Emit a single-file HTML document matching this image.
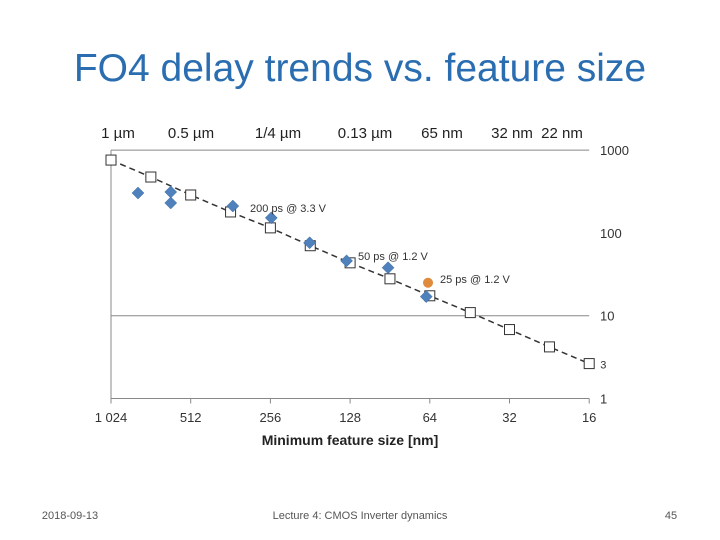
<!DOCTYPE html>
<html><head><meta charset="utf-8"><style>
body{margin:0;background:#fff;width:720px;height:540px;overflow:hidden;font-family:"Liberation Sans",sans-serif}
svg{display:block}
</style></head><body>
<svg id="chart" width="720" height="540" viewBox="0 0 720 540" font-family="Liberation Sans, sans-serif">
<text x="360" y="81" text-anchor="middle" font-size="39" fill="#2a6db0">FO4 delay trends vs. feature size</text>
<g font-size="15" fill="#222" text-anchor="middle">
<text x="118" y="138">1 µm</text><text x="191" y="138">0.5 µm</text><text x="278" y="138">1/4 µm</text><text x="365" y="138">0.13 µm</text><text x="442" y="138">65 nm</text><text x="537" y="138">32 nm&#160; 22 nm</text>
</g>
<g id="axes"></g>
<g id="marks"></g>
<text x="350" y="445" text-anchor="middle" font-size="14" font-weight="bold" fill="#222">Minimum feature size [nm]</text>
<g font-size="11" fill="#333">
<text x="250" y="212">200 ps @ 3.3 V</text><text x="358" y="260">50 ps @ 1.2 V</text><text x="440" y="283">25 ps @ 1.2 V</text>
</g>
<text x="70" y="519" text-anchor="middle" font-size="11" fill="#555">2018-09-13</text>
<text x="360" y="519" text-anchor="middle" font-size="11" fill="#555">Lecture 4: CMOS Inverter dynamics</text>
<text x="671" y="519" text-anchor="middle" font-size="11" fill="#555">45</text>
</svg>
<script>
const trendX=[1024,724,512,362,256,181,128,90.5,64,45,32,22.6,16];
const trendY=[758,473,287,179,115,70,43.5,27.9,17.4,10.9,6.8,4.2,2.64];
const measX=[810,609,609,355,254,182,132,92,66];
const measY=[303,312,230,211,152,76,46,38,17];
const extraX=[65];
const extraY=[25];
const xTicks=[1024,512,256,128,64,32,16];
const xTickLabels=["1 024","512","256","128","64","32","16"];
const yTicks=[1,10,100,1000];
const ns="http://www.w3.org/2000/svg";
const X0=111,PXO=79.7,Y1=398.5,PXD=82.8;
const sx=v=>X0+Math.log2(1024/v)*PXO;
const sy=v=>Y1-Math.log10(v)*PXD;
function mk(t,a,p){const e=document.createElementNS(ns,t);for(const k in a)e.setAttribute(k,a[k]);p.appendChild(e);return e;}
const ax=document.getElementById('axes'),mg=document.getElementById('marks');
let l=mk('line',{x1:X0,y1:sy(1000),x2:X0,y2:Y1,stroke:'#888'},ax);


yTicks.forEach(v=>{
 const g=mk('line',{x1:X0,y1:sy(v),x2:sx(16),y2:sy(v),stroke:v===100?'none':'#888'},ax);
 
 
 const t=mk('text',{x:600,y:sy(v)+5,'font-size':13,fill:'#333'},ax);t.textContent=String(v);
 
 
});
xTicks.forEach((v,i)=>{
 const tk=mk('line',{x1:sx(v),y1:Y1,x2:sx(v),y2:Y1+5,stroke:'#888'},ax);
 
 
 const t=mk('text',{x:sx(v),y:422,'font-size':13,fill:'#333','text-anchor':'middle'},ax);t.textContent=xTickLabels[i];
 
 
});
const pts=trendX.map((v,i)=>sx(v).toFixed(1)+','+sy(trendY[i]).toFixed(1)).join(' ');
const pl=mk('polyline',{points:pts,fill:'none',stroke:'#333','stroke-width':1.5,'stroke-dasharray':'6,4'},mg);


trendX.forEach((v,i)=>{
 const r=mk('rect',{x:sx(v)-5,y:sy(trendY[i])-5,width:10,height:10,fill:'#fff',stroke:'#333','stroke-width':1},mg);
 
 
});
const t3=mk('text',{x:sx(16)+11,y:sy(trendY[12])+5,'font-size':11,fill:'#333'},mg);t3.textContent='3';


measX.forEach((v,i)=>{
 const cx=sx(v),cy=sy(measY[i]);
 const d=mk('polygon',{points:`${cx},${cy-6} ${cx+6},${cy} ${cx},${cy+6} ${cx-6},${cy}`,fill:'#4f81bd',stroke:'#3a6aa0','stroke-width':0.5},mg);
 
 
});
extraX.forEach((v,i)=>{
 const c=mk('circle',{cx:sx(v),cy:sy(extraY[i]),r:5,fill:'#e08a3c'},mg);
 
 
});
</script>
</body></html>
